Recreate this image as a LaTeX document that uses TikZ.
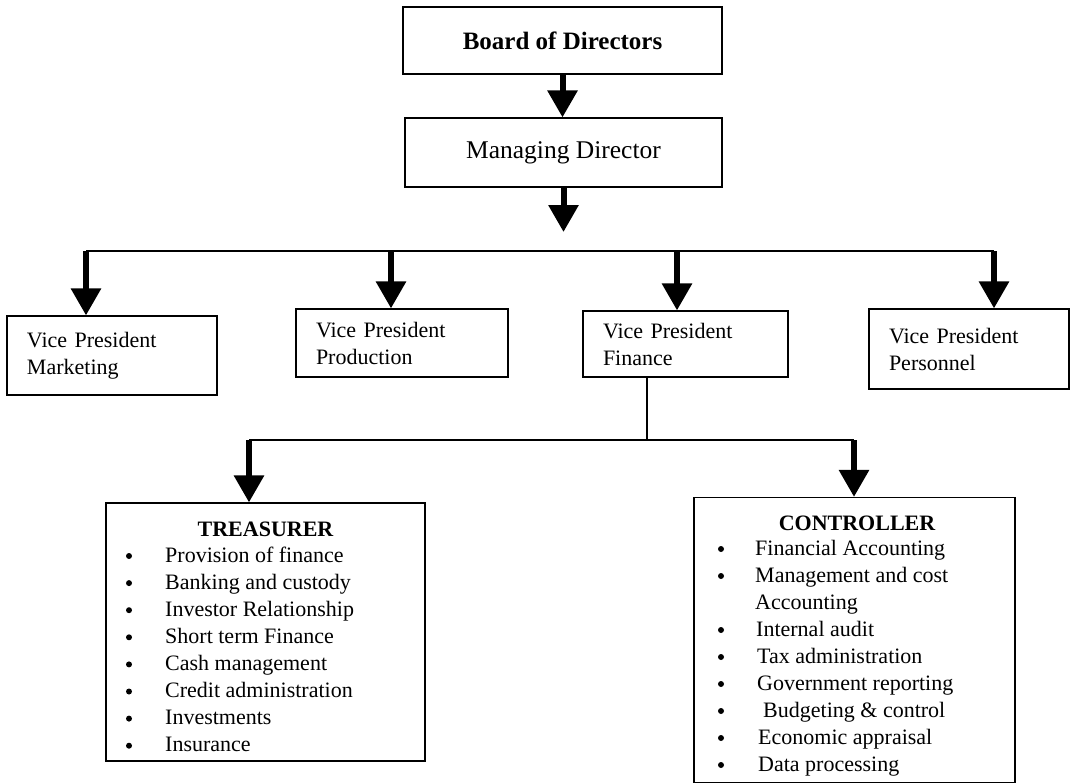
\documentclass[tikz,border=0pt]{standalone}
\usepackage{fontspec}
\setmainfont{Liberation Serif}
\usetikzlibrary{arrows.meta}
\begin{document}
\begin{tikzpicture}[x=1pt,y=-1pt,
  box/.style={draw, line width=1.2pt, inner sep=0pt},
  vpbox/.style={box, align=left, inner xsep=20pt, font=\fontsize{22}{27}\selectfont},
  bigarrow/.style={line width=6pt, -{Triangle[width=29pt,length=27pt]}},
  conn/.style={line width=1.5pt},
  item/.style={anchor=base west, inner sep=0pt, font=\fontsize{22}{27}\selectfont},
  bul/.style={circle, fill, inner sep=0pt, minimum size=6pt},
  title/.style={anchor=base, inner sep=0pt, font=\bfseries\fontsize{22}{27}\selectfont}]
\useasboundingbox (0,0) rectangle (1073,784);

% top boxes
\node[box, minimum width=319pt, minimum height=67pt, font=\bfseries\fontsize{25}{30}\selectfont] (board) at (562.5,40.5) {Board of Directors};
\node[box, minimum width=317pt, minimum height=69pt, font=\fontsize{25.5}{30}\selectfont] (md) at (563.5,152.5) {Managing Director};

% vice presidents
\node[vpbox, text width=170pt, minimum height=79pt] (mkt) at (112,355.5) {Vice President\\Marketing};
\node[vpbox, text width=172pt, minimum height=68pt] (prod) at (402,343) {Vice President\\Production};
\node[vpbox, text width=165pt, minimum height=66pt] (fin) at (685.5,344) {Vice President\\Finance};
\node[vpbox, text width=160pt, minimum height=80pt] (pers) at (969,349) {Vice President\\Personnel};

% lower boxes
\node[box, minimum width=319pt, minimum height=258pt] (treas) at (265.5,632) {};
\node[box, minimum width=321pt, minimum height=285pt] (ctrl) at (854.5,640) {};

% connectors top
\draw[bigarrow] (board.south) -- (board.south |- md.north);
\coordinate (mdtip) at (563.5,232);
\draw[bigarrow] (md.south) -- (mdtip);

\coordinate (busL) at (86,251);
\coordinate (busP) at (391,251);
\coordinate (busF) at (677,251);
\coordinate (busR) at (994,251);
\draw[conn] (busL) -- (busR);
\draw[bigarrow] (busL) -- (busL |- mkt.north);
\draw[bigarrow] (busP) -- (busP |- prod.north);
\draw[bigarrow] (busF) -- (busF |- fin.north);
\draw[bigarrow] (busR) -- (busR |- pers.north);

% finance split
\coordinate (fdown) at (647,440);
\coordinate (splitL) at (249,440);
\coordinate (splitR) at (854,440);
\draw[conn] (fdown |- fin.south) -- (fdown);
\draw[conn] (splitL) -- (splitR);
\draw[bigarrow] (splitL) -- (splitL |- treas.north);
\draw[bigarrow] (splitR) -- (splitR |- ctrl.north);

% treasurer content
\node[title] (ttitle) at (265.5,536) {TREASURER};
\foreach \t [count=\i from 0] in {Provision of finance, Banking and custody, Investor Relationship, Short term Finance, Cash management, Credit administration, Investments, Insurance} {
  \node[bul] (tb\i) at (129,{556+27.1*\i}) {};
  \node[item] (ti\i) at (165,{562+27.1*\i}) {\t};
}

% controller content
\node[title] (ctitle) at (857,530) {CONTROLLER};
\foreach \i/\xx/\t in {0/755/Financial Accounting, 1/755/Management and cost, 3/756/Internal audit, 4/757/Tax administration, 5/757/Government reporting, 6/763/Budgeting \& control, 7/758/Economic appraisal, 8/758/Data processing} {
  \node[bul] (cb\i) at (721,{549+27*\i}) {};
  \node[item] (ci\i) at (\xx,{555+27*\i}) {\t};
}
\node[item] (ci2) at (755,{555+27*2}) {Accounting};
\end{tikzpicture}
\end{document}
